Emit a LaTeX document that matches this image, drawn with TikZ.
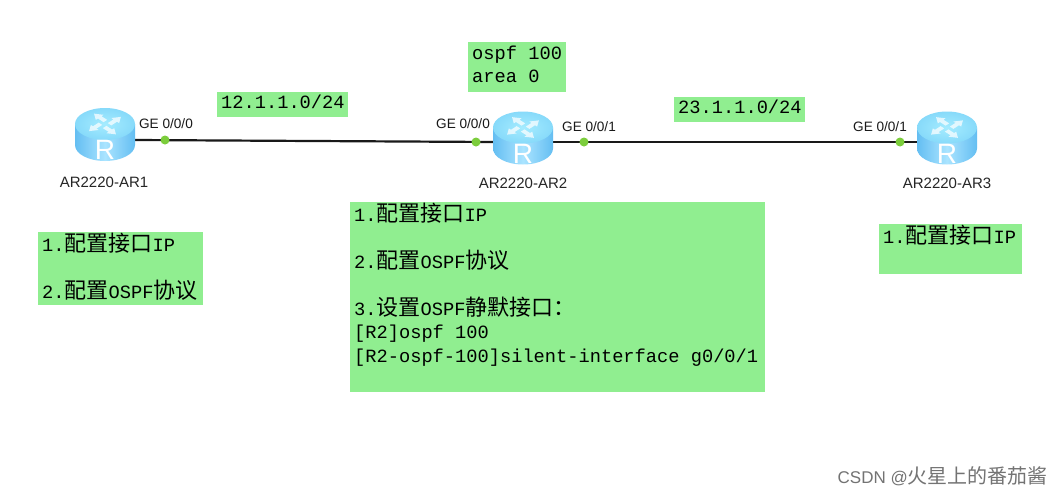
\documentclass[tikz,border=0pt]{standalone}
\usepackage{fontspec}
\setmainfont{Liberation Sans}
\newfontfamily\monof{Liberation Mono}
\newfontfamily\cjk{Noto Sans CJK SC}
\newcommand{\zh}[1]{{\cjk\fontsize{22}{23.5}\selectfont #1}}
\newcommand{\boxfont}{\monof\fontsize{18.7}{23.5}\selectfont}
\newcommand{\msp}{\hspace{11.25pt}}
\newcommand{\lift}{\\[-17.5pt]\mbox{}}
\definecolor{notegreen}{RGB}{144,238,144}
\definecolor{portgreen}{RGB}{124,205,60}
\definecolor{bodymid}{RGB}{170,228,255}
\definecolor{bodyedge}{RGB}{100,190,242}
\definecolor{topmid}{RGB}{165,236,255}
\definecolor{topedge}{RGB}{135,218,250}
\tikzset{
  x=1pt,y=-1pt,
  note/.style={fill=notegreen,inner xsep=4pt,inner ysep=0pt,align=left,font=\boxfont,anchor=north west},
  routerbase/.style={minimum width=60pt,minimum height=4pt,inner sep=0pt},
  port/.style={circle,fill=portgreen,minimum size=9pt,inner sep=0pt},
  portlabel/.style={font=\fontsize{13.6}{15}\selectfont,text=black!90,inner sep=0pt},
  routerlabel/.style={font=\fontsize{15}{17}\selectfont,text=black!85,inner sep=0pt},
  link/.style={line width=2.2pt,black!90},
  router/.pic={
    \path[left color=bodyedge,right color=bodyedge,middle color=bodymid]
      (-30,-11) -- (-30,10) arc[start angle=180,end angle=360,x radius=30pt,y radius=16pt] -- (30,-11) -- cycle;
    \path[inner color=topmid,outer color=topedge] (0,-11) ellipse[x radius=30pt,y radius=16pt];
    \foreach \a in {45,135,225,315}{
      \begin{scope}[shift={(0,-11)},yscale=.65,rotate=\a]
        \path[fill=white,fill opacity=.72] (3,1) -- (11,1) -- (11,-2) -- (19,3.5) -- (11,9) -- (11,6) -- (3,6) -- cycle;
      \end{scope}
    }
    \node[text=white,inner sep=0pt,font=\fontsize{28}{28}\selectfont] at (0,15) {R};
  }
}
\begin{document}
\begin{tikzpicture}
\useasboundingbox[fill=white] (0,0) rectangle (1064,496);
% notes
\node[note,minimum width=131pt,minimum height=25pt,text width=123pt] (n12) at (217,92) {12.1.1.0/24\lift};
\node[note,minimum width=131pt,minimum height=25pt,text width=123pt] (n23) at (674,97) {23.1.1.0/24\lift};
\node[note,minimum width=98pt,minimum height=50pt,text width=90pt] (nospf) at (468,42) {ospf\msp 100\\area\msp 0\lift};
\node[note,minimum width=165pt,minimum height=73pt,text width=157pt] (nar1) at (38,232)
  {1.\zh{配置接口}IP\\\mbox{}\\2.\zh{配置}OSPF\zh{协议}\lift};
\node[note,minimum width=415pt,minimum height=190pt,text width=407pt] (nar2) at (350,202)
  {1.\zh{配置接口}IP\\\mbox{}\\2.\zh{配置}OSPF\zh{协议}\\\mbox{}\\3.\zh{设置}OSPF\zh{静默接口：}\\{}[R2]ospf\msp 100\\{}[R2-ospf-100]silent-interface\msp g0/0/1\\\mbox{}\lift};
\node[note,minimum width=143pt,minimum height=50pt,text width=135pt] (nar3) at (879,224)
  {1.\zh{配置接口}IP\\\mbox{}\lift};
% routers (anchors on the link height)
\node[routerbase] (r1) at (105,140) {};
\node[routerbase] (r2) at (523,142) {};
\node[routerbase] (r3) at (947,142) {};
\draw[link] (r1.east) -- (r2.west);
\draw[link] (r2.east) -- (r3.west);
\pic at (105,135) {router};
\pic at (523,138.5) {router};
\pic at (947,138.5) {router};
% ports
\node[port] (p1) at (165,140) {};
\node[port] (p2) at (476,142) {};
\node[port] (p3) at (584,142) {};
\node[port] (p4) at (900,142) {};
% labels
\node[portlabel] (l1) at (166,124) {GE 0/0/0};
\node[portlabel] (l2) at (463,124) {GE 0/0/0};
\node[portlabel] (l3) at (589,127) {GE 0/0/1};
\node[portlabel] (l4) at (880,127) {GE 0/0/1};
\node[routerlabel] (a1) at (104,182) {AR2220-AR1};
\node[routerlabel] (a2) at (523,183) {AR2220-AR2};
\node[routerlabel] (a3) at (947,183) {AR2220-AR3};
\node[inner sep=0pt,text=black!55,anchor=east,font=\fontsize{17}{20}\selectfont] (wm) at (1048,476) {CSDN @{\cjk\fontsize{20}{20}\selectfont 火星上的番茄酱}};
\end{tikzpicture}
\end{document}
